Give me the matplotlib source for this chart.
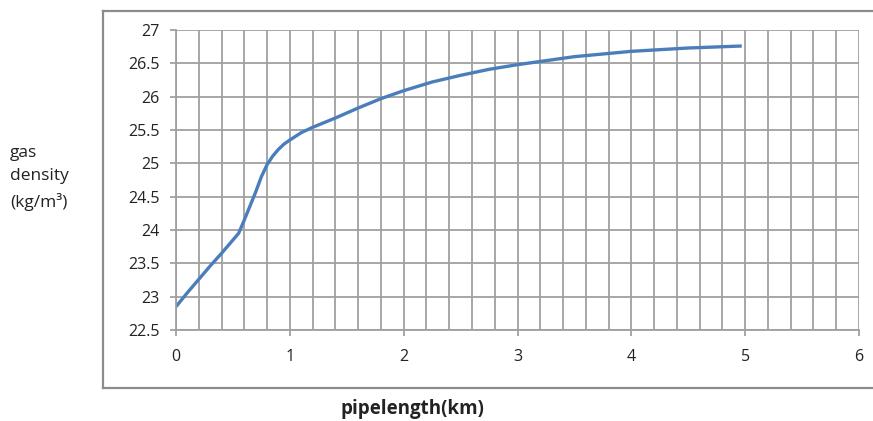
import numpy as np
import matplotlib
matplotlib.use("Agg")
import matplotlib.pyplot as plt
from matplotlib.lines import Line2D

# pipe length (km) vs gas density (kg/m3)
pipe_km = [0, 0.1, 0.2, 0.3, 0.4, 0.55, 0.6, 0.65, 0.7, 0.75, 0.8, 0.85, 0.9,
           0.95, 1.0, 1.1, 1.2, 1.4, 1.6, 1.8, 2.0, 2.25, 2.5, 2.75, 3.0, 3.5,
           4.0, 4.5, 4.97]
density = [22.85, 23.06, 23.26, 23.46, 23.65, 23.95, 24.15, 24.36, 24.57, 24.8,
           24.98, 25.11, 25.21, 25.29, 25.35, 25.46, 25.54, 25.68, 25.83, 25.97,
           26.09, 26.22, 26.32, 26.41, 26.48, 26.6, 26.68, 26.73, 26.76]

x_ticks = [0, 1, 2, 3, 4, 5, 6]
y_ticks = [22.5, 23, 23.5, 24, 24.5, 25, 25.5, 26, 26.5, 27]

plt.rcParams["font.family"] = ["Open Sans", "DejaVu Sans"]

W, H = 873, 421
fig = plt.figure(figsize=(W / 100, H / 100), dpi=100)
ax = fig.add_axes([176 / W, 1 - 330 / H, (859 - 176) / W, 300 / H])

grid_c = "#a0a0a0"
ax.set_xlim(0, 6)
ax.set_ylim(22.5, 27)
ax.set_xticks(x_ticks)
ax.set_yticks(y_ticks)
ax.set_yticklabels([f"{v:g}" for v in y_ticks])
ax.set_xticks(np.arange(0, 6.01, 0.2), minor=True)
ax.tick_params(axis="x", which="minor", length=0)
ax.tick_params(axis="both", which="major", direction="out", length=4,
               color=grid_c, width=1.3, labelsize=11.5, labelcolor="#222222")
ax.tick_params(axis="x", pad=10)
ax.tick_params(axis="y", pad=8)
ax.grid(True, which="both", axis="x", color=grid_c, lw=1.3)
ax.grid(True, which="major", axis="y", color=grid_c, lw=1.3)
ax.set_axisbelow(True)
for s in ["top", "right"]:
    ax.spines[s].set_visible(False)
for s in ["left", "bottom"]:
    ax.spines[s].set_color(grid_c)
    ax.spines[s].set_linewidth(1.3)

ax.plot(pipe_km, density, color="#4a7ebb", lw=2.4, solid_capstyle="butt",
        solid_joinstyle="round")

# outer chart border (left, top, bottom)
bc = "#8c8c8c"
x0, x1, y0, y1 = 103 / W, 1.0, 1 - 388 / H, 1 - 11 / H
for xs, ys in [([x0, x0], [y0, y1]), ([x0, x1], [y1, y1]), ([x0, x1], [y0, y0])]:
    fig.add_artist(Line2D(xs, ys, transform=fig.transFigure, color=bc, lw=1.6))

fig.text(10 / W, 1 - 178 / H, "gas\ndensity\n(kg/m³)", ha="left", va="center",
         fontsize=12.5, linespacing=1.6, color="#222222")
fig.text(412 / W, 1 - 409 / H, "pipelength(km)", ha="center", va="center",
         fontsize=13.5, fontweight="bold", color="#222222")

fig.savefig("out.png", dpi=100)
